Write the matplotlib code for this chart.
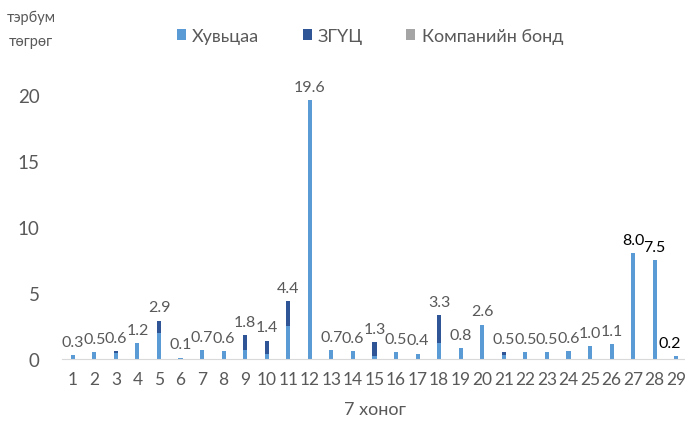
import matplotlib
matplotlib.use("Agg")
import matplotlib.pyplot as plt
import numpy as np

plt.rcParams["font.family"] = ["Lato", "DejaVu Sans"]

# weeks and values (тэрбум төгрөг)
weeks = list(range(1, 30))
stocks = [0.3, 0.5, 0.45, 1.2, 2.0, 0.1, 0.7, 0.6, 0.7, 0.4,
          2.5, 19.6, 0.7, 0.6, 0.2, 0.5, 0.4, 1.2, 0.8, 2.6,
          0.3, 0.5, 0.5, 0.6, 1.0, 1.1, 8.0, 7.5, 0.2]
gov_bonds = [0.0, 0.0, 0.15, 0.0, 0.9, 0.0, 0.0, 0.0, 1.1, 1.0,
             1.9, 0.0, 0.0, 0.0, 1.1, 0.0, 0.0, 2.1, 0.0, 0.0,
             0.2, 0.0, 0.0, 0.0, 0.0, 0.0, 0.0, 0.0, 0.0]
corp_bonds = [0.0] * 29
totals = [0.3, 0.5, 0.6, 1.2, 2.9, 0.1, 0.7, 0.6, 1.8, 1.4,
          4.4, 19.6, 0.7, 0.6, 1.3, 0.5, 0.4, 3.3, 0.8, 2.6,
          0.5, 0.5, 0.5, 0.6, 1.0, 1.1, 8.0, 7.5, 0.2]

c_light = "#5B9BD5"
c_dark = "#2F5597"
c_grey = "#A5A5A5"
txt = "#595959"

fig = plt.figure(figsize=(6.85, 4.31), dpi=100)
ax = fig.add_axes([62 / 685, 71 / 431, 625 / 685, 290.4 / 431])

x = np.array(weeks)
w = 0.19
s = np.array(stocks)
g = np.array(gov_bonds)
ax.bar(x, s, w, color=c_light, label="Хувьцаа")
ax.bar(x, g, w, bottom=s, color=c_dark, label="ЗГҮЦ")
ax.bar(x, corp_bonds, w, bottom=s + g, color=c_grey, label="Компанийн бонд")

for xi, t in zip(x, totals):
    col = "black" if xi >= 27 else txt
    dx = -4.5 if xi == 29 else 0  # keep last label inside the figure
    ax.annotate(f"{t:.1f}", (xi, t), xytext=(dx, 4.5), textcoords="offset points",
                ha="center", va="bottom", fontsize=11.5, color=col)

ax.set_xlim(0.5, 29.5)
ax.set_ylim(0, 22)
ax.set_yticks([0, 5, 10, 15, 20])
ax.set_xticks(x)
ax.tick_params(axis="both", length=0, colors=txt)
ax.tick_params(axis="x", pad=9, labelsize=12.5)
ax.tick_params(axis="y", pad=16, labelsize=13.5)
for sp in ["top", "right", "left"]:
    ax.spines[sp].set_visible(False)
ax.spines["bottom"].set_color("#D9D9D9")

fig.text(375 / 685, 1 - 410 / 431, "7 хоног", ha="center", va="center",
         fontsize=13, color=txt)
fig.text(31 / 685, 1 - 30 / 431, "тэрбум\nтөгрөг", ha="center", va="center",
         fontsize=10.5, color=txt, linespacing=1.9)

fig.legend(loc="center", bbox_to_anchor=(370 / 685, 1 - 37 / 431), ncol=3,
           frameon=False, fontsize=13, labelcolor=txt, handlelength=0.5,
           handleheight=0.5, handletextpad=0.35, columnspacing=2.4)

fig.savefig("out.png", dpi=100)
